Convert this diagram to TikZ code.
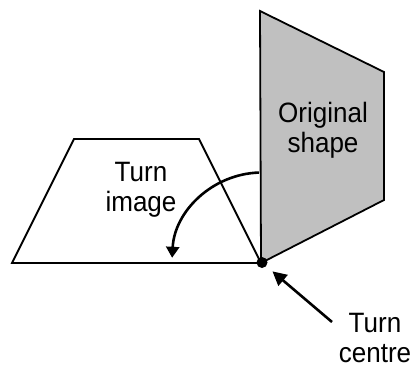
\documentclass[tikz,border=0pt]{standalone}
\usepackage{fontspec}
\setmainfont{Liberation Sans}[FakeStretch=0.93]
\usetikzlibrary{arrows.meta}
\definecolor{shapegray}{HTML}{C0C0C0}
\tikzset{
  edge/.style={line width=1.8pt, line join=miter},
  turnarrow/.style={line width=2.6pt, -{Triangle[length=11pt,width=13pt]}},
  pointer/.style={line width=2.6pt, -{Triangle[length=14pt,width=14pt]}},
  label/.style={align=center, font=\fontsize{28}{30}\selectfont, inner sep=0pt},
}

\begin{document}
\begin{tikzpicture}[x=1pt,y=1pt]
  \useasboundingbox (0,0) rectangle (414,370);
  % original shape
  \draw[edge,fill=shapegray] (260,359) -- (384,298) -- (384,170) -- (261,107) -- cycle;
  % turn image
  \draw[edge] (12,107) -- (74,231) -- (199,231) -- (261,107) -- cycle;
  \node[label] (orig) at (323,239.5) {Original\\shape};
  \node[label] (img) at (141,180.3) {Turn\\image};
  \node[circle,fill,inner sep=0pt,minimum size=11pt] (centre) at (262,107.5) {};
  \node[label] (clabel) at (375,32) {Turn\\centre};
  \coordinate (ctail) at (332,48);
  % turning arrow
  \draw[turnarrow] ([shift={(92:90)}]centre.center) arc[start angle=92,end angle=177,radius=90];
  \draw[pointer,shorten >=8pt] (ctail) -- (centre);
\end{tikzpicture}
\end{document}
